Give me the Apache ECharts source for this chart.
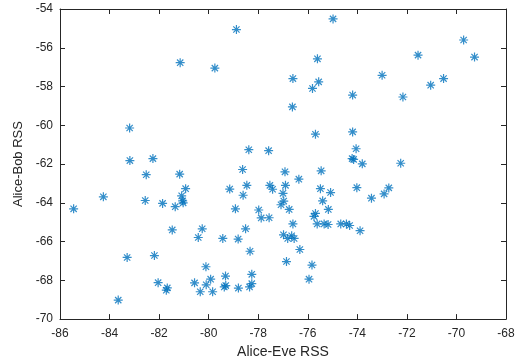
<!DOCTYPE html>
<html>
<head>
<meta charset="utf-8">
<script src="https://cdn.jsdelivr.net/npm/echarts@6/dist/echarts.min.js"></script>
<style>
  html, body { margin: 0; padding: 0; background: #fff; }
  #chart { width: 519px; height: 364px; }
</style>
</head>
<body>
<div id="chart"></div>
<script>
// Alice-Eve RSS (x) and Alice-Bob RSS (y)
const eveRss = [
  -78.88, -81.15, -79.75, -83.19, -83.18, -82.25, -78.38, -77.58, -78.63, -74.98,
  -75.61, -76.60, -75.56, -75.81, -76.62, -74.19, -73.00, -71.55, -69.71, -69.27,
  -71.04, -70.52, -72.16, -75.69, -74.19, -74.05, -74.21, -74.15, -73.80, -72.25,
  -76.92, -75.46, -76.90, -76.36, -77.00, -76.97, -77.08, -76.75, -75.49, -75.08,
  -75.40, -74.02, -73.43, -72.92, -72.73, -75.69, -75.75, -75.17, -76.60, -75.62,
  -75.34, -75.18, -74.67, -74.44, -74.31, -73.89, -76.98, -76.65, -76.81, -76.55,
  -76.32, -76.86, -75.83, -75.95, -82.52, -81.17, -84.25, -85.45, -82.56, -81.86,
  -81.35, -81.09, -81.05, -81.03, -80.93, -79.15, -78.61, -78.46, -78.92, -77.98,
  -77.88, -77.56, -77.53, -77.42, -81.47, -80.42, -80.26, -79.43, -78.81, -78.51,
  -78.33, -83.29, -82.19, -80.11, -79.92, -79.32, -78.26, -82.04, -81.67, -81.71,
  -80.57, -80.10, -80.34, -79.84, -79.37, -79.31, -78.80, -78.35, -78.26, -83.65
];
const bobRss = [
  -55.06, -56.77, -57.05, -60.14, -61.82, -61.72, -61.26, -61.31, -62.28, -54.51,
  -56.57, -57.59, -57.76, -58.10, -59.05, -58.44, -57.42, -56.38, -55.60, -56.48,
  -57.93, -57.59, -58.54, -60.46, -60.34, -61.21, -61.72, -61.76, -61.99, -61.96,
  -62.40, -62.35, -63.10, -62.78, -63.51, -63.91, -64.10, -64.34, -63.27, -63.47,
  -63.90, -63.22, -63.76, -63.54, -63.23, -64.55, -64.70, -64.34, -65.09, -65.09,
  -65.09, -65.12, -65.09, -65.09, -65.17, -65.44, -65.65, -65.70, -65.84, -65.84,
  -66.41, -67.03, -67.21, -67.94, -62.55, -62.52, -63.69, -64.31, -63.88, -64.03,
  -64.20, -63.64, -63.90, -64.00, -63.27, -63.29, -63.61, -63.10, -64.31, -64.37,
  -64.78, -64.77, -63.10, -63.30, -65.40, -65.79, -65.34, -65.84, -65.87, -65.34,
  -66.50, -66.82, -66.72, -67.30, -67.94, -67.78, -67.69, -68.12, -68.39, -68.51,
  -68.13, -68.23, -68.59, -68.59, -68.34, -68.27, -68.40, -68.34, -68.17, -69.02
];
const xRange = [-86, -68];
const yRange = [-70, -54];

const points = eveRss.map((x, i) => [x, bobRss[i]]);

const chart = echarts.init(document.getElementById("chart"));

const axisColor = "#262626";
const font = "'Liberation Sans', Arial, sans-serif";

const baseAxis = {
  type: "value",
  interval: 2,
  axisLine: { show: true, onZero: false, lineStyle: { color: axisColor, width: 1 } },
  axisTick: { show: true, inside: true, length: 5, lineStyle: { color: axisColor } },
  splitLine: { show: false },
};

const option = {
  animation: false,
  grid: { left: 60, right: 13, top: 9, bottom: 42 },
  xAxis: [
    {
      ...baseAxis,
      position: "bottom",
      min: xRange[0],
      max: xRange[1],
      axisLabel: { color: axisColor, fontFamily: font, fontSize: 12, margin: 9 },
      name: "Alice-Eve RSS",
      nameLocation: "middle",
      nameGap: 25,
      nameTextStyle: { color: axisColor, fontFamily: font, fontSize: 14 },
    },
    {
      ...baseAxis,
      position: "top",
      min: xRange[0],
      max: xRange[1],
      axisLabel: { show: false },
    },
  ],
  yAxis: [
    {
      ...baseAxis,
      position: "left",
      min: yRange[0],
      max: yRange[1],
      axisLabel: { color: axisColor, fontFamily: font, fontSize: 12, margin: 7 },
      name: "Alice-Bob RSS",
      nameLocation: "middle",
      nameGap: 31,
      nameTextStyle: { color: axisColor, fontFamily: font, fontSize: 13 },
    },
    {
      ...baseAxis,
      position: "right",
      min: yRange[0],
      max: yRange[1],
      axisLabel: { show: false },
    },
  ],
  series: [
    {
      type: "scatter",
      xAxisIndex: 0,
      yAxisIndex: 0,
      symbol: "path://M5,0L5,10M0,5L10,5M1.5,1.5L8.5,8.5M1.5,8.5L8.5,1.5",
      symbolSize: 9,
      itemStyle: { color: "rgba(0,0,0,0)", borderColor: "#0072BD", borderWidth: 1.2 },
      data: points,
    },
  ],
};

chart.setOption(option);
</script>
</body>
</html>
